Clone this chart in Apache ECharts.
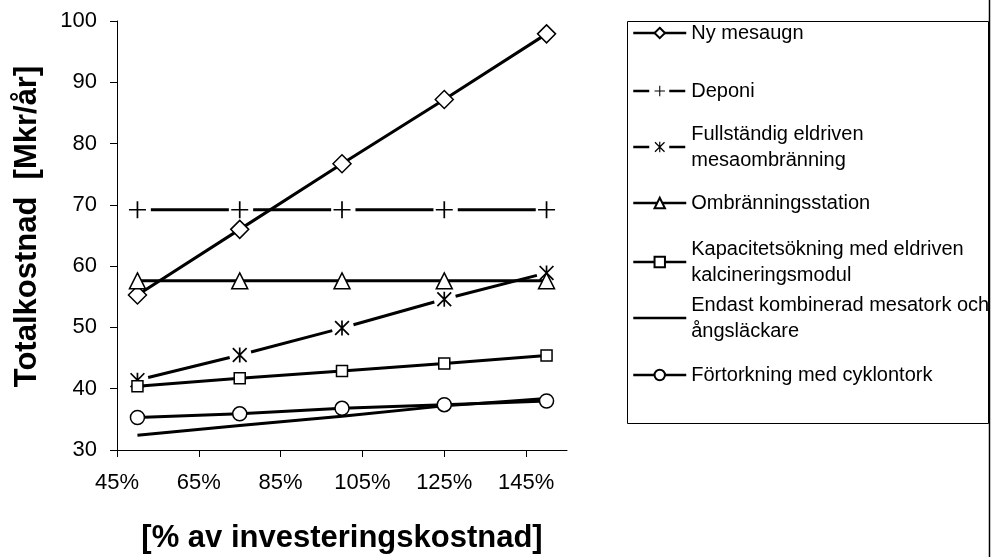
<!DOCTYPE html>
<html><head><meta charset="utf-8">
<script src="https://cdn.jsdelivr.net/npm/echarts@6/dist/echarts.min.js"></script>
<style>html,body{margin:0;padding:0;background:#fff}#c{width:993px;height:557px}</style>
</head><body><div id="c"></div>
<script>
// ---- data ----
const xValues = [50, 75, 100, 125, 150];
const xTicks = [45, 65, 85, 105, 125, 145];
const seriesNames = [
  'Ny mesaugn',
  'Deponi',
  'Fullständig eldriven mesaombränning',
  'Ombränningsstation',
  'Kapacitetsökning med eldriven kalcineringsmodul',
  'Endast kombinerad mesatork och ångsläckare',
  'Förtorkning med cyklontork'
];
const legendLabels = [
  'Ny mesaugn',
  'Deponi',
  'Fullständig eldriven\nmesaombränning',
  'Ombränningsstation',
  'Kapacitetsökning med eldriven\nkalcineringsmodul',
  'Endast kombinerad mesatork och\nångsläckare',
  'Förtorkning med cyklontork'
];
const nyMesaugn   = [55.3, 66.0, 76.7, 87.2, 97.9];
const deponi      = [69.2, 69.2, 69.2, 69.2, 69.2];
const fullstandig = [41.4, 45.5, 49.9, 54.6, 58.9];
const ombranning  = [57.6, 57.6, 57.6, 57.6, 57.6];
const kapacitet   = [40.4, 41.7, 42.9, 44.1, 45.4];
const endast      = [32.4, 34.0, 35.5, 37.2, 38.4];
const fortorkning = [35.3, 35.9, 36.8, 37.4, 38.0];
const yTitle = 'Totalkostnad  [Mkr/år]';
const xTitle = '[% av investeringskostnad]';

// ---- styles ----
const FONT = '"Liberation Sans", Arial, sans-serif';
const plusPath = 'path://M0,7.2 L16,7.2 L16,8.8 L0,8.8 Z M7.2,0 L8.8,0 L8.8,16 L7.2,16 Z';
const starPath = 'path://M7.1,0 L8.9,0 L8.9,16 L7.1,16 Z M0,1.3 L1.3,0 L16,14.7 L14.7,16 Z M14.7,0 L16,1.3 L1.3,16 L0,14.7 Z';
const hollow = {color: '#fff', borderColor: '#000', borderWidth: 1.5};
const solid = {color: '#000', borderWidth: 0};

function pts(arr) { return arr.map((v, i) => [xValues[i], v]); }

const allData = [nyMesaugn, deponi, fullstandig, ombranning, kapacitet, endast, fortorkning];
const seriesStyles = [
  {symbol: 'diamond', symbolSize: 18, itemStyle: hollow, lineStyle: {width: 3, color: '#000'}},
  {symbol: plusPath, symbolSize: 17, itemStyle: solid, lineStyle: {width: 3, color: '#000', type: [78, 24.3], dashOffset: 88.9}},
  {symbol: starPath, symbolSize: 15, itemStyle: solid, lineStyle: {width: 3, color: '#000', type: [84, 22], dashOffset: 95}},
  {symbol: 'triangle', symbolSize: 16, itemStyle: hollow, lineStyle: {width: 3, color: '#000'}},
  {symbol: 'rect', symbolSize: 11, itemStyle: hollow, lineStyle: {width: 3, color: '#000'}},
  {symbol: 'none', itemStyle: {color: '#000'}, lineStyle: {width: 3, color: '#000'}},
  {symbol: 'circle', symbolSize: 14, itemStyle: hollow, lineStyle: {width: 3, color: '#000'}}
];

const series = seriesNames.map((name, i) => Object.assign({
  name: name,
  type: 'line',
  data: pts(allData[i]),
  showAllSymbol: true,
  animation: false,
  emphasis: {disabled: true}
}, seriesStyles[i]));

const legendLines = [33, 91, 147, 203, 262, 318, 375];
const legends = seriesNames.map((name, i) => {
  const twoLine = legendLabels[i].indexOf('\n') >= 0;
  const lg = {
    data: [name],
    left: 632,
    top: legendLines[i] - (twoLine ? 39 : 13),
    orient: 'vertical',
    padding: 0,
    itemWidth: 53,
    itemHeight: 13,
    itemGap: 0,
    selectedMode: false,
    formatter: () => legendLabels[i],
    lineStyle: {width: 2.5},
    textStyle: {fontFamily: FONT, fontSize: 20, color: '#000', lineHeight: 26,
      padding: twoLine ? [26, 0, 0, 0] : 0}
  };
  if (i === 1 || i === 2) lg.lineStyle = {width: 2.5, type: [16, 20], dashOffset: 0};
  if (i === 5) lg.itemStyle = {opacity: 0, color: 'rgba(0,0,0,0)', borderWidth: 0};
  return lg;
});

const option = {
  backgroundColor: '#fff',
  animation: false,
  grid: {left: 117, top: 21, width: 450, height: 429, containLabel: false, outerBoundsMode: 'none'},
  legend: legends,
  xAxis: {
    type: 'value', min: 45, max: 155,
    name: xTitle, nameLocation: 'middle', nameGap: 73,
    nameTextStyle: {fontFamily: FONT, fontSize: 31, fontWeight: 'bold', color: '#000'},
    axisLine: {lineStyle: {color: '#000', width: 1}},
    axisTick: {show: true, inside: false, length: 7, customValues: xTicks, lineStyle: {color: '#000'}},
    axisLabel: {customValues: xTicks, formatter: v => v + '%', fontFamily: FONT, fontSize: 22, color: '#000', margin: 22},
    splitLine: {show: false}
  },
  yAxis: {
    type: 'value', min: 30, max: 100, interval: 10,
    name: yTitle, nameLocation: 'middle', nameGap: 74, nameRotate: 90,
    nameTextStyle: {fontFamily: FONT, fontSize: 31, fontWeight: 'bold', color: '#000', padding: [0, 0, 0, 18]},
    axisLine: {show: true, lineStyle: {color: '#000', width: 1}},
    axisTick: {show: true, inside: false, length: 7, lineStyle: {color: '#000'}},
    axisLabel: {fontFamily: FONT, fontSize: 22, color: '#000', margin: 20},
    splitLine: {show: false}
  },
  graphic: [
    {type: 'rect', shape: {x: 627.5, y: 21.5, width: 361, height: 402}, style: {fill: 'none', stroke: '#000', lineWidth: 1}, z: -1},
    {type: 'line', shape: {x1: 989.5, y1: 0, x2: 989.5, y2: 557}, style: {stroke: '#000', lineWidth: 1.5}}
  ],
  series: series
};

const chart = echarts.init(document.getElementById('c'), null, {renderer: 'canvas'});
chart.setOption(option);
</script>
</body></html>
